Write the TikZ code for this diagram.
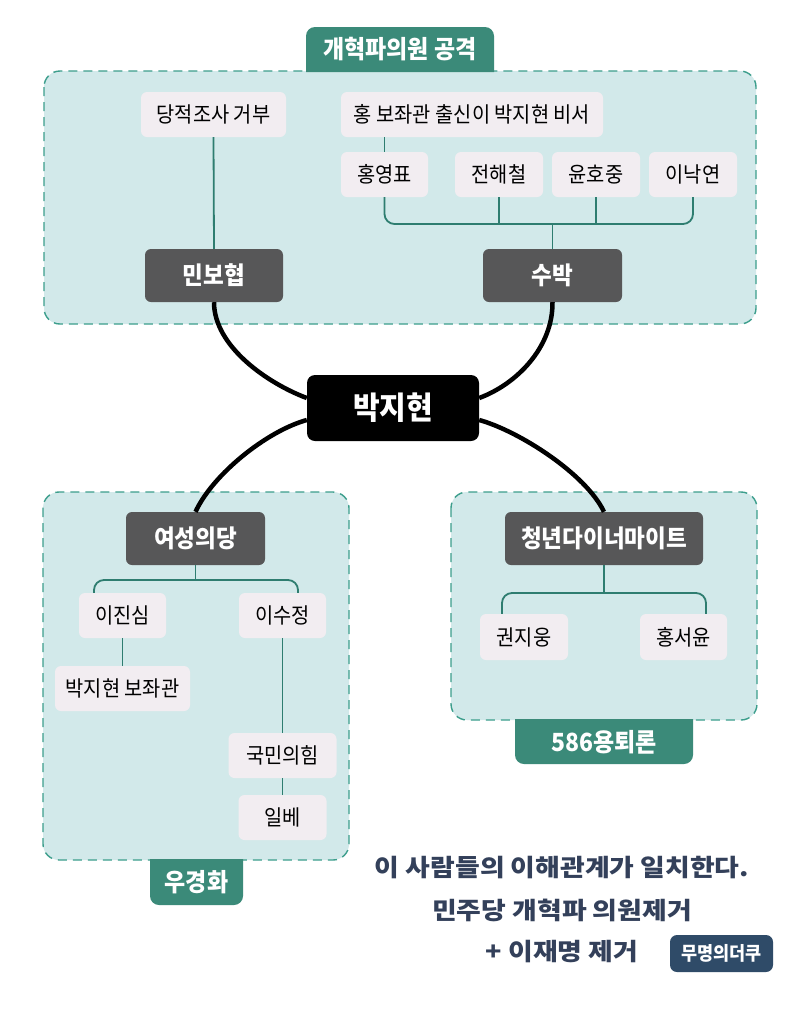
\documentclass[tikz,border=0pt]{standalone}
\usepackage{fontspec}
\setmainfont[FakeStretch=0.92]{Noto Sans CJK KR}
\newfontfamily\handfont[FakeStretch=1.12]{Noto Sans CJK KR}
\definecolor{grpfill}{HTML}{D2E9EA}
\definecolor{grpborder}{HTML}{3C9E8C}
\definecolor{tagfill}{HTML}{3B8A79}
\definecolor{lfill}{HTML}{F2EDF1}
\definecolor{dfill}{HTML}{575758}
\definecolor{conncol}{HTML}{2E7D70}
\definecolor{navy}{HTML}{33405A}
\definecolor{wmfill}{HTML}{2F4B68}
\begin{document}
\begin{tikzpicture}[x=1pt,y=-1pt,
  group/.style={fill=grpfill, draw=grpborder, line width=1.4pt, dash pattern=on 9pt off 6pt, rounded corners=16pt},
  tagtext/.style={text=white, font=\fontsize{25}{25}\selectfont\bfseries, inner sep=0pt},
  lbox/.style={fill=lfill, rounded corners=6pt, minimum height=45pt, inner sep=0pt, text=black, font=\fontsize{21.5}{21.5}\selectfont},
  dbox/.style={fill=dfill, rounded corners=6pt, minimum height=53pt, inner sep=0pt, text=white, font=\fontsize{24.5}{24.5}\selectfont\bfseries},
  conn/.style={draw=conncol, line width=1.8pt, rounded corners=10pt},
  bigline/.style={draw=black, line width=4.5pt},
  bottomtext/.style={text=navy, font=\handfont\fontsize{24}{24}\selectfont\bfseries, inner sep=0pt}
]
\useasboundingbox (0,0) rectangle (800,1018);
\fill[white] (0,0) rectangle (800,1018);

% groups
\path[group] (44,71) rectangle (756,324);
\path[group] (43,492) rectangle (349,860);
\path[group] (451,492) rectangle (757,720);

% tags
\fill[tagfill] (306,72) [rounded corners=9pt] -- (306,27) -- (494,27) [sharp corners] -- (494,72) -- cycle;
\node[tagtext] (tagtop) at (400,49) {개혁파의원 공격};
\fill[tagfill] (150,859) [rounded corners=9pt] -- (150,905) -- (243,905) [sharp corners] -- (243,859) -- cycle;
\node[tagtext] (tagleft) at (196.5,882) {우경화};
\fill[tagfill] (515,719) [rounded corners=9pt] -- (515,764) -- (693,764) [sharp corners] -- (693,719) -- cycle;
\node[tagtext] (tagright) at (604,742) {586용퇴론};

% top group nodes
\node[lbox, minimum width=145pt] (dang) at (213.5,114.5) {당적조사 거부};
\node[lbox, minimum width=262pt] (hongbo) at (472,114.5) {홍 보좌관 출신이 박지현 비서};
\node[lbox, minimum width=87pt] (hyp) at (384.5,174.5) {홍영표};
\node[lbox, minimum width=88pt] (jhc) at (499,174.5) {전해철};
\node[lbox, minimum width=88pt] (yhj) at (596,174.5) {윤호중};
\node[lbox, minimum width=88pt] (inn) at (693,174.5) {이낙연};
\node[dbox, minimum width=138pt] (minbo) at (214,275.5) {민보협};
\node[dbox, minimum width=139pt] (subak) at (552.5,275.5) {수박};

\coordinate (topbar) at (553,224);
\draw[conn] (dang.south) -- (minbo.north);
\draw[conn] (hyp.north) -- (hyp.north |- hongbo.south);
\draw[conn] (hyp.south) |- (topbar) -| (inn.south);
\draw[conn] (jhc.south) -- (jhc.south |- topbar);
\draw[conn] (yhj.south) -- (yhj.south |- topbar);
\draw[conn] (subak.north |- topbar) -- (subak.north);

% center
\node[fill=black, rounded corners=8pt, minimum width=172pt, minimum height=66pt, inner sep=0pt, text=white, font=\fontsize{31.5}{31.5}\selectfont\bfseries] (park) at (393,408) {박지현};

% left group nodes
\node[dbox, minimum width=139pt] (yeo) at (195.5,538.5) {여성의당};
\node[lbox, minimum width=87pt] (ijs) at (122.5,615.5) {이진심};
\node[lbox, minimum width=87pt] (isj) at (282.5,615.5) {이수정};
\node[lbox, minimum width=135pt] (pbj) at (122.5,688.5) {박지현 보좌관};
\node[lbox, minimum width=108pt] (kmp) at (282.5,755.5) {국민의힘};
\node[lbox, minimum width=88pt] (ilbe) at (282.5,817.5) {일베};

\coordinate (lbar) at (196,580);
\draw[conn] ([xshift=-28.5pt]ijs.north) |- (lbar) -| ([xshift=15.5pt]isj.north);
\draw[conn] (yeo.south) -- (yeo.south |- lbar);
\draw[conn] (ijs.south) -- (pbj.north);
\draw[conn] (isj.south) -- (kmp.north);
\draw[conn] (kmp.south) -- (ilbe.north);

% right group nodes
\node[dbox, minimum width=198pt] (cy) at (604,538.5) {청년다이너마이트};
\node[lbox, minimum width=88pt, minimum height=46pt] (kjw) at (524,637) {권지웅};
\node[lbox, minimum width=87pt, minimum height=46pt] (hsy) at (683.5,637) {홍서윤};

\coordinate (rbar) at (604,593);
\draw[conn] ([xshift=-22pt]kjw.north) |- (rbar) -| ([xshift=22.5pt]hsy.north);
\draw[conn] (cy.south) -- (cy.south |- rbar);

% thick curves
\draw[bigline] (minbo.south) .. controls (214,347) and (269,384) .. ([yshift=10pt]park.west);
\draw[bigline] (subak.south) .. controls (553,347) and (517,384) .. ([yshift=10pt]park.east);
\draw[bigline] ([yshift=-12pt]park.west) .. controls (267,431) and (213,474) .. (yeo.north);
\draw[bigline] ([yshift=-12pt]park.east) .. controls (519,431) and (586,474) .. (cy.north);

% bottom text
\node[bottomtext] (t1) at (562,868) {이 사람들의 이해관계가 일치한다.};
\node[bottomtext] (t2) at (562,910) {민주당 개혁파 의원제거};
\node[bottomtext] (t3) at (562,952) {+ 이재명 제거};
\node[fill=wmfill, rounded corners=7pt, minimum width=103pt, minimum height=37pt, inner sep=0pt, text=white, font=\fontsize{19}{19}\selectfont\bfseries] (wm) at (721.5,953.5) {무명의더쿠};
\end{tikzpicture}
\end{document}
